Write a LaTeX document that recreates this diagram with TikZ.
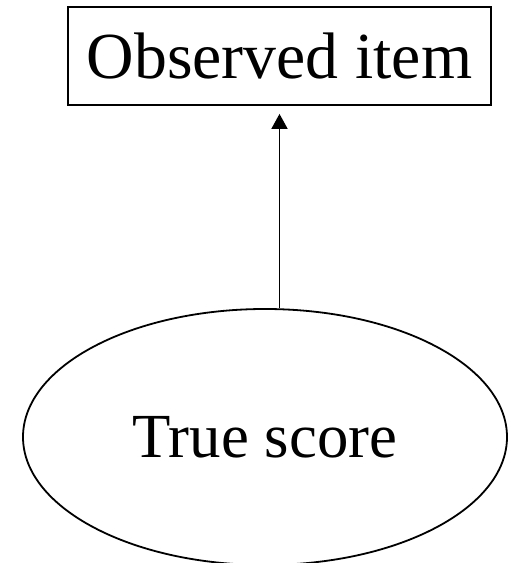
\documentclass[tikz,border=0pt]{standalone}
\usepackage{fontspec}
\setmainfont{Liberation Serif}
\usetikzlibrary{shapes.geometric, arrows.meta}

\begin{document}
\begin{tikzpicture}[
        x=1bp, y=-1bp,
        line width=1.8bp,
        item/.style={draw, rectangle, minimum width=423bp, minimum height=98bp, inner sep=0pt,
          font=\fontsize{66}{72}\selectfont},
        latent/.style={draw, ellipse, minimum width=484bp, minimum height=256bp, inner sep=0pt,
          font=\fontsize{63}{70}\selectfont},
      ]

      \useasboundingbox (0, 0) rectangle (514, 563);

      \node[item] (obs) at (279.5, 56) {Observed item};
      \node[latent] (true) at (265, 437) {True score};

      \draw[-{Triangle[length=15bp,width=16bp]}, shorten >=8bp] (true.north -| obs.south) -- (obs.south);

    \end{tikzpicture}
\end{document}
